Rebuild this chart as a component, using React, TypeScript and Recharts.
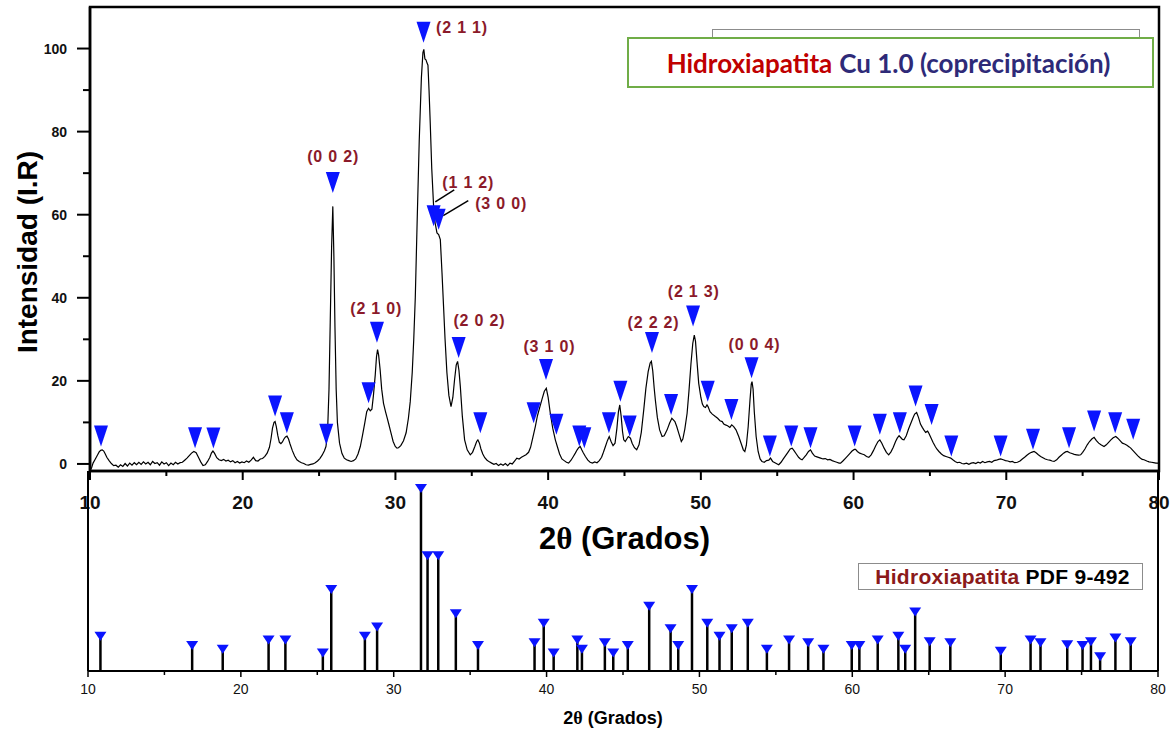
import React from "react";
import {
  ComposedChart,
  Line,
  Scatter,
  Bar,
  XAxis,
  YAxis,
  ReferenceArea,
  ReferenceLine,
  Legend,
} from "recharts";

// measured pattern: [2θ, intensity]
const patternPoints: [number, number][] = [
  [10.0, -1.5], [10.1, -1.0], [10.2, 0.2], [10.35, 1.2], [10.5, 2.2], [10.6, 2.9], [10.7, 3.3], [10.8, 3.4],
  [10.9, 3.1], [11.0, 2.4], [11.1, 1.6], [11.25, 0.8], [11.4, 0.1], [11.55, -0.4], [11.7, -0.3], [11.85, -0.8],
  [12.0, -0.2], [12.15, -0.6], [12.3, 0.1], [12.45, -0.5], [12.6, 0.2], [12.75, -0.3], [12.9, 0.3], [13.05, -0.2],
  [13.2, 0.4], [13.35, -0.1], [13.5, 0.5], [13.65, 0.0], [13.8, 0.4], [13.95, -0.2], [14.1, 0.6], [14.25, 0.1],
  [14.4, 0.3], [14.55, -0.3], [14.7, 0.5], [14.85, 0.0], [15.0, 0.3], [15.15, -0.4], [15.3, 0.2], [15.45, -0.2],
  [15.6, 0.4], [15.75, 0.0], [15.9, 0.3], [16.05, 0.4], [16.2, 0.9], [16.35, 1.4], [16.5, 2.0], [16.65, 2.6],
  [16.8, 3.0], [16.95, 2.7], [17.1, 1.6], [17.25, 0.5], [17.4, -0.4], [17.55, -0.2], [17.7, 0.6], [17.85, 1.6],
  [17.95, 2.6], [18.05, 3.1], [18.15, 2.6], [18.3, 1.5], [18.45, 1.0], [18.6, 0.8], [18.75, 1.1], [18.9, 0.7],
  [19.05, 0.9], [19.2, 0.5], [19.35, 0.8], [19.5, 0.3], [19.65, 0.6], [19.8, 0.2], [19.95, 0.5], [20.1, 0.3],
  [20.25, 0.7], [20.4, 0.4], [20.55, 0.9], [20.7, 1.6], [20.85, 0.8], [21.0, 0.7], [21.15, 1.2], [21.3, 1.3],
  [21.45, 1.8], [21.6, 2.6], [21.75, 4.0], [21.85, 6.0], [21.95, 8.6], [22.05, 10.0], [22.12, 10.2], [22.2, 9.0],
  [22.3, 6.8], [22.4, 5.2], [22.5, 4.9], [22.6, 5.3], [22.7, 6.0], [22.8, 6.5], [22.9, 6.7], [23.0, 6.0],
  [23.1, 4.8], [23.25, 3.2], [23.4, 1.9], [23.55, 1.0], [23.7, 0.6], [23.85, 0.3], [24.0, 0.1], [24.15, -0.2],
  [24.3, -0.3], [24.45, -0.1], [24.6, 0.0], [24.75, 0.3], [24.9, 0.7], [25.05, 1.3], [25.2, 2.1], [25.35, 3.2],
  [25.45, 4.2], [25.55, 7.0], [25.65, 18.0], [25.73, 34.0], [25.82, 52.0], [25.9, 62.0], [25.97, 50.0], [26.04, 33.0],
  [26.12, 18.0], [26.2, 10.0], [26.34, 5.0], [26.5, 2.5], [26.65, 1.4], [26.8, 1.0], [26.95, 0.8], [27.1, 0.6],
  [27.25, 0.8], [27.4, 1.2], [27.55, 2.4], [27.7, 4.2], [27.85, 7.0], [28.0, 10.0], [28.12, 12.6], [28.24, 13.4],
  [28.35, 12.8], [28.46, 13.2], [28.56, 16.5], [28.68, 21.5], [28.76, 25.8], [28.83, 27.5], [28.9, 26.2], [29.0, 22.6],
  [29.1, 18.0], [29.22, 14.6], [29.35, 12.6], [29.45, 11.2], [29.55, 9.8], [29.7, 7.6], [29.85, 5.4], [29.99, 4.2],
  [30.1, 3.8], [30.2, 3.9], [30.35, 4.4], [30.53, 5.6], [30.7, 7.5], [30.85, 11.0], [30.97, 15.0], [31.1, 22.0],
  [31.2, 30.0], [31.3, 40.0], [31.42, 58.0], [31.56, 78.0], [31.7, 93.0], [31.8, 99.0], [31.86, 99.8], [31.93, 97.5],
  [32.0, 97.3], [32.07, 96.5], [32.13, 96.0], [32.2, 90.0], [32.28, 82.0], [32.38, 71.0], [32.5, 62.0], [32.6, 58.0],
  [32.72, 55.6], [32.83, 55.2], [32.94, 54.0], [33.05, 46.0], [33.15, 38.0], [33.25, 30.0], [33.37, 22.0], [33.5, 16.5],
  [33.64, 13.8], [33.76, 16.0], [33.87, 20.2], [33.98, 23.8], [34.07, 24.7], [34.16, 22.5], [34.25, 18.6], [34.38, 11.5],
  [34.53, 5.8], [34.7, 3.4], [34.9, 2.2], [35.05, 2.8], [35.2, 4.2], [35.32, 5.4], [35.4, 5.8], [35.5, 5.0],
  [35.6, 3.6], [35.72, 2.4], [35.85, 1.5], [36.0, 0.9], [36.15, 0.5], [36.3, 0.2], [36.45, -0.1], [36.6, 0.1],
  [36.75, -0.4], [36.9, 0.0], [37.05, -0.3], [37.2, 0.1], [37.35, -0.4], [37.5, 0.2], [37.65, 0.0], [37.8, 0.7],
  [37.95, 1.4], [38.1, 1.2], [38.25, 1.6], [38.4, 1.9], [38.55, 2.2], [38.72, 2.8], [38.85, 4.0], [39.0, 6.4],
  [39.16, 9.0], [39.3, 11.6], [39.45, 13.6], [39.6, 15.6], [39.75, 17.5], [39.88, 18.2], [40.0, 16.0], [40.14, 12.2],
  [40.3, 8.6], [40.47, 5.8], [40.6, 4.2], [40.75, 2.4], [40.9, 1.2], [41.05, 0.8], [41.2, 0.4], [41.34, 0.2],
  [41.5, 0.9], [41.65, 1.8], [41.78, 2.6], [41.9, 3.4], [42.0, 3.9], [42.1, 4.2], [42.2, 3.4], [42.3, 2.7],
  [42.44, 1.8], [42.6, 0.9], [42.75, 0.4], [42.9, 0.2], [43.05, 0.5], [43.2, 0.3], [43.35, 0.8], [43.5, 1.6],
  [43.62, 2.8], [43.75, 4.2], [43.88, 5.6], [44.0, 6.6], [44.12, 5.4], [44.25, 4.4], [44.38, 5.0], [44.5, 8.5],
  [44.6, 12.5], [44.69, 14.2], [44.78, 11.5], [44.87, 7.8], [44.95, 5.8], [45.05, 5.4], [45.15, 6.0], [45.25, 6.6],
  [45.39, 6.2], [45.5, 5.0], [45.65, 3.9], [45.8, 3.4], [45.95, 4.6], [46.1, 7.6], [46.26, 13.0], [46.4, 18.2],
  [46.55, 22.2], [46.68, 24.3], [46.76, 24.7], [46.85, 22.4], [46.94, 18.4], [47.02, 15.4], [47.15, 11.2], [47.3, 8.2],
  [47.46, 6.6], [47.6, 6.8], [47.79, 8.2], [47.95, 9.8], [48.1, 11.0], [48.2, 10.6], [48.3, 10.2], [48.42, 9.0],
  [48.55, 7.4], [48.72, 5.4], [48.82, 6.0], [48.95, 8.4], [49.1, 12.2], [49.22, 17.5], [49.35, 24.0], [49.47, 29.0],
  [49.57, 31.0], [49.65, 29.5], [49.75, 24.5], [49.86, 19.4], [50.0, 16.0], [50.1, 14.4], [50.19, 13.8], [50.3, 13.6],
  [50.4, 14.2], [50.47, 13.8], [50.6, 12.6], [50.75, 12.0], [50.95, 11.4], [51.1, 11.0], [51.25, 10.4], [51.4, 10.2],
  [51.5, 9.6], [51.61, 9.4], [51.75, 9.2], [51.9, 8.8], [52.02, 9.4], [52.15, 9.0], [52.3, 8.2], [52.48, 6.6],
  [52.65, 4.8], [52.78, 3.4], [52.88, 3.0], [52.98, 4.5], [53.1, 9.0], [53.22, 15.5], [53.3, 19.2], [53.35, 19.8],
  [53.42, 18.0], [53.5, 12.5], [53.62, 6.6], [53.75, 3.0], [53.88, 1.2], [54.0, 0.6], [54.15, 0.4], [54.3, 0.8],
  [54.45, 0.9], [54.56, 1.4], [54.7, 0.6], [54.85, 0.3], [55.0, 0.0], [55.1, -0.2], [55.25, 0.4], [55.4, 1.2],
  [55.55, 2.0], [55.7, 2.8], [55.85, 3.6], [55.98, 3.8], [56.1, 3.2], [56.25, 2.4], [56.4, 1.6], [56.52, 1.2],
  [56.63, 1.0], [56.75, 1.5], [56.9, 2.2], [57.05, 3.0], [57.18, 3.4], [57.3, 2.6], [57.45, 1.9], [57.6, 1.7],
  [57.84, 1.4], [58.0, 1.2], [58.15, 1.3], [58.3, 1.0], [58.45, 1.1], [58.6, 0.8], [58.75, 0.6], [58.9, 0.4],
  [59.05, 0.2], [59.15, 0.2], [59.3, 0.7], [59.45, 1.3], [59.6, 1.9], [59.75, 2.5], [59.9, 3.1], [60.05, 3.5],
  [60.13, 3.5], [60.25, 3.0], [60.4, 2.6], [60.55, 2.4], [60.7, 2.2], [60.85, 1.8], [61.0, 1.6], [61.15, 2.2],
  [61.3, 3.2], [61.45, 4.4], [61.6, 5.4], [61.72, 5.8], [61.85, 5.0], [62.0, 3.8], [62.15, 2.8], [62.3, 2.2],
  [62.45, 2.9], [62.6, 4.0], [62.75, 5.4], [62.86, 6.2], [62.98, 6.8], [63.1, 6.3], [63.2, 5.9], [63.3, 5.8],
  [63.45, 6.8], [63.6, 8.4], [63.75, 9.8], [63.9, 11.2], [64.0, 12.0], [64.13, 12.4], [64.25, 11.2], [64.38, 9.6],
  [64.5, 8.8], [64.6, 8.2], [64.72, 7.6], [64.85, 7.9], [64.93, 7.4], [65.05, 6.4], [65.2, 5.2], [65.35, 4.2],
  [65.45, 3.6], [65.59, 3.0], [65.75, 2.4], [65.9, 2.0], [66.05, 1.8], [66.2, 1.6], [66.36, 1.4], [66.5, 1.0],
  [66.65, 0.6], [66.8, 0.3], [66.95, 0.4], [67.1, 0.1], [67.23, 0.0], [67.4, 0.2], [67.55, -0.1], [67.7, 0.2],
  [67.85, 0.3], [68.0, 0.1], [68.15, 0.4], [68.3, 0.2], [68.45, 0.6], [68.6, 0.3], [68.75, 0.5], [68.9, 0.6],
  [69.05, 0.4], [69.2, 0.8], [69.35, 0.9], [69.5, 1.1], [69.63, 1.2], [69.8, 1.0], [69.95, 0.8], [70.1, 0.7],
  [70.25, 0.5], [70.4, 0.6], [70.55, 0.3], [70.73, 0.4], [70.9, 0.7], [71.05, 1.2], [71.2, 1.6], [71.35, 2.1],
  [71.5, 2.5], [71.65, 2.8], [71.82, 3.0], [71.95, 2.7], [72.1, 2.2], [72.25, 1.8], [72.4, 1.5], [72.55, 1.2],
  [72.7, 1.0], [72.85, 0.9], [73.0, 0.7], [73.13, 0.6], [73.3, 1.0], [73.45, 1.6], [73.6, 2.1], [73.75, 2.6],
  [73.88, 2.9], [74.0, 3.0], [74.15, 2.7], [74.3, 2.5], [74.45, 2.3], [74.6, 2.2], [74.75, 2.1], [74.87, 2.2],
  [75.0, 2.8], [75.15, 3.6], [75.3, 4.6], [75.45, 5.4], [75.6, 6.0], [75.75, 6.4], [75.9, 5.6], [76.05, 5.0],
  [76.2, 4.6], [76.4, 4.2], [76.55, 4.6], [76.7, 5.2], [76.85, 5.8], [77.0, 6.3], [77.17, 6.6], [77.3, 6.2],
  [77.45, 5.6], [77.6, 5.0], [77.75, 4.8], [77.9, 4.5], [78.05, 4.1], [78.15, 3.8], [78.3, 3.2], [78.45, 2.6],
  [78.6, 2.0], [78.75, 1.5], [78.9, 1.1], [79.02, 1.0], [79.2, 0.7], [79.35, 0.5], [79.5, 0.4], [79.65, 0.3],
  [79.8, 0.2], [79.9, 0.2], [80.0, 0.1],
];

// blue triangles over the identified reflections: [2θ, intensity at the tip]
const peakMarks: [number, number][] = [
  [10.72, 4.2], [16.88, 3.8], [18.08, 3.7], [22.12, 11.4], [22.89, 7.4], [25.47, 4.6], [25.9, 65.2],
  [28.24, 14.6], [28.79, 29.2], [31.84, 101.4], [32.5, 57.2], [32.83, 56.4], [34.14, 25.5], [35.56, 7.4],
  [39.05, 9.8], [39.86, 20.2], [40.54, 7.0], [42.04, 4.2], [42.37, 3.8], [43.98, 7.4], [44.73, 15.0],
  [45.34, 6.6], [46.8, 26.7], [48.05, 11.8], [49.49, 33.1], [50.45, 15.0], [52.0, 10.6], [53.32, 20.6],
  [54.52, 1.8], [55.92, 4.2], [57.18, 3.8], [60.07, 4.2], [61.72, 7.0], [63.03, 7.4], [64.06, 13.8],
  [65.11, 9.4], [66.4, 1.8], [69.63, 1.8], [71.75, 3.4], [74.11, 3.8], [75.75, 7.8], [77.13, 7.4], [78.31, 5.8],
];

// Miller indices and where their text sits
const hklLabels = [
  { t: 25.92, v: 74.0, label: "(0 0 2)" },
  { t: 28.74, v: 37.3, label: "(2 1 0)" },
  { t: 34.36, v: 105.1, label: "(2 1 1)" },
  { t: 34.77, v: 67.7, label: "(1 1 2)" },
  { t: 36.92, v: 62.7, label: "(3 0 0)" },
  { t: 35.5, v: 34.5, label: "(2 0 2)" },
  { t: 40.08, v: 28.3, label: "(3 1 0)" },
  { t: 46.9, v: 34.0, label: "(2 2 2)" },
  { t: 49.53, v: 41.5, label: "(2 1 3)" },
  { t: 53.51, v: 28.8, label: "(0 0 4)" },
];

const leaderLines = [
  [{ x: 33.85, y: 66.0 }, { x: 32.61, y: 63.1 }],
  [{ x: 34.77, y: 63.4 }, { x: 33.13, y: 59.8 }],
];

// reference card PDF 9-432: [2θ, relative intensity]
const pdfSticks: [number, number][] = [
  [10.8, 21], [16.8, 16], [18.8, 14], [21.8, 19], [22.9, 19], [25.35, 12], [25.9, 46], [28.1, 21],
  [28.9, 26], [31.77, 100], [32.2, 64], [32.9, 64], [34.05, 33], [35.5, 16], [39.2, 17.5], [39.8, 28],
  [40.45, 12], [42.0, 19], [42.3, 14], [43.8, 17.5], [44.35, 12], [45.3, 16], [46.7, 37], [48.1, 25],
  [48.6, 16], [49.5, 46], [50.5, 28], [51.3, 21], [52.1, 25], [53.15, 28], [54.4, 14], [55.85, 19],
  [57.1, 17.5], [58.1, 14], [59.95, 16], [60.45, 16], [61.65, 19], [63.0, 21], [63.45, 14], [64.1, 34],
  [65.05, 18], [66.4, 17.5], [69.7, 13], [71.65, 19], [72.3, 17.5], [74.05, 16.5], [75.05, 16], [75.6, 18],
  [76.2, 10], [77.2, 20], [78.2, 18],
];

const xTicks = [10, 15, 20, 25, 30, 35, 40, 45, 50, 55, 60, 65, 70, 75, 80];
const yTicks = [0, 10, 20, 30, 40, 50, 60, 70, 80, 90, 100];

const SANS = "'Liberation Sans', Arial, sans-serif";
const BLUE = "#0a14ff";
const HKL_RED = "#8b1a2a";

const patternData = patternPoints.map(([t, v]) => ({ t, v }));
const markData = peakMarks.map(([t, v]) => ({ t, v }));
const stickData = pdfSticks.map(([t, v]) => ({ t, v }));

function TopXTick({ x, y, payload }: any) {
  const major = payload.value % 10 === 0;
  return (
    <g>
      <line x1={x} x2={x} y1={y} y2={y + (major ? 9 : 5)} stroke="#000" strokeWidth={2} />
      {major && (
        <text x={x} y={y + 38} textAnchor="middle" fontSize={19} fontWeight="bold" fontFamily={SANS} fill="#111">
          {payload.value}
        </text>
      )}
    </g>
  );
}

function TopYTick({ x, y, payload }: any) {
  const major = payload.value % 20 === 0;
  return (
    <g>
      <line x1={x} x2={x - (major ? 13 : 7)} y1={y} y2={y} stroke="#000" strokeWidth={2} />
      {major && (
        <text x={x - 23} y={y + 5} textAnchor="end" fontSize={14} fontWeight="bold" fontFamily={SANS} fill="#111">
          {payload.value}
        </text>
      )}
    </g>
  );
}

function BottomXTick({ x, y, payload }: any) {
  const major = payload.value % 10 === 0;
  return (
    <g>
      <line x1={x} x2={x} y1={y} y2={y + (major ? 6 : 4)} stroke="#000" strokeWidth={1.5} />
      {major && (
        <text x={x} y={y + 23} textAnchor="middle" fontSize={14} fontFamily={SANS} fill="#111">
          {payload.value}
        </text>
      )}
    </g>
  );
}

function Triangle({ cx, cy }: any) {
  return <polygon points={`${cx - 7},${cy - 21} ${cx + 7},${cy - 21} ${cx},${cy}`} fill={BLUE} />;
}

function HklText({ cx, cy, payload }: any) {
  return (
    <text
      x={cx}
      y={cy}
      textAnchor="middle"
      dominantBaseline="central"
      fontSize={16}
      fontWeight="bold"
      letterSpacing={0.8}
      fontFamily={SANS}
      fill={HKL_RED}
    >
      {payload.label}
    </text>
  );
}

function Stick({ x, y, width, height }: any) {
  const cx = x + width / 2;
  return (
    <g>
      <line x1={cx} x2={cx} y1={y + height} y2={y + 4} stroke="#000" strokeWidth={2.5} />
      <polygon points={`${cx - 6},${y} ${cx + 6},${y} ${cx},${y + 9}`} fill={BLUE} />
    </g>
  );
}

function TitleX({ viewBox, size, dx, dy }: any) {
  return (
    <text
      x={viewBox.x + viewBox.width / 2 + dx}
      y={viewBox.y + dy}
      textAnchor="middle"
      dominantBaseline="central"
      fontSize={size}
      fontWeight="bold"
      fontFamily={SANS}
      fill="#000"
    >
      2<tspan fontFamily="'Liberation Serif', serif">θ</tspan> (Grados)
    </text>
  );
}

function TitleY({ viewBox }: any) {
  const cx = viewBox.x + 27;
  const cy = viewBox.y + 245;
  return (
    <text
      x={cx}
      y={cy}
      transform={`rotate(-90 ${cx} ${cy})`}
      textAnchor="middle"
      dominantBaseline="central"
      fontSize={28}
      fontWeight="bold"
      fontFamily={SANS}
      fill="#000"
    >
      Intensidad (I.R)
    </text>
  );
}

function SampleLegend() {
  return (
    <div style={{ position: "relative", width: 527, height: 59 }}>
      <div
        style={{
          position: "absolute",
          left: 85,
          top: 0,
          width: 428,
          height: 20,
          border: "1.5px solid #8c8c8c",
          boxSizing: "border-box",
        }}
      />
      <div
        style={{
          position: "absolute",
          left: 0,
          top: 8,
          width: 527,
          height: 51,
          border: "2.5px solid #70ad47",
          boxSizing: "border-box",
          background: "#fff",
          display: "flex",
          alignItems: "center",
          justifyContent: "center",
          fontFamily: "Lato, 'Open Sans', sans-serif",
          fontWeight: "bold",
          fontSize: 26,
          paddingRight: 4,
        }}
      >
        <span style={{ color: "#c00000" }}>Hidroxiapatita</span>
        <span style={{ color: "#2e2a78", marginLeft: 7 }}>Cu 1.0 (coprecipitación)</span>
      </div>
    </div>
  );
}

function CardLegend() {
  return (
    <div
      style={{
        width: 285,
        height: 27,
        border: "1.5px solid #8c8c8c",
        boxSizing: "border-box",
        background: "#fff",
        fontFamily: SANS,
        fontWeight: "bold",
        fontSize: 21,
        letterSpacing: 0.3,
        display: "flex",
        alignItems: "center",
        justifyContent: "center",
        paddingLeft: 4,
      }}
    >
      <span style={{ color: "#8b1a1a" }}>Hidroxiapatita</span>
      <span style={{ color: "#000", marginLeft: 6 }}>PDF 9-492</span>
    </div>
  );
}

export default function App() {
  return (
    <div style={{ position: "absolute", left: 0, top: 0, width: 1173, height: 732, background: "#fff" }}>
      <div style={{ position: "absolute", left: 0, top: 0 }}>
        <ComposedChart width={1173} height={560} data={patternData} margin={{ top: 7, right: 14, bottom: 0, left: 0 }}>
          <XAxis
            dataKey="t"
            type="number"
            domain={[10, 80]}
            ticks={xTicks}
            tick={<TopXTick />}
            tickLine={false}
            tickSize={0}
            tickMargin={0}
            height={89}
            axisLine={{ stroke: "#000", strokeWidth: 2.5 }}
            allowDataOverflow
            label={{ content: (p: any) => <TitleX {...p} size={31} dx={0} dy={67} /> }}
          />
          <YAxis
            type="number"
            domain={[-1.7, 110]}
            ticks={yTicks}
            tick={<TopYTick />}
            tickLine={false}
            tickSize={0}
            tickMargin={0}
            width={90}
            axisLine={{ stroke: "#000", strokeWidth: 2.5 }}
            allowDataOverflow
            label={{ content: (p: any) => <TitleY {...p} /> }}
          />
          <ReferenceArea x1={10} x2={80} y1={-1.7} y2={110} fill="none" stroke="#000" strokeWidth={2.5} />
          <Line
            dataKey="v"
            type="linear"
            stroke="#000"
            strokeWidth={1.2}
            dot={false}
            isAnimationActive={false}
          />
          <Scatter data={markData} dataKey="v" shape={<Triangle />} isAnimationActive={false} />
          <Scatter data={hklLabels} dataKey="v" shape={<HklText />} isAnimationActive={false} />
          {leaderLines.map((seg, i) => (
            <ReferenceLine key={i} segment={seg} stroke="#000" strokeWidth={1.5} />
          ))}
          <Legend
            layout="horizontal"
            verticalAlign="middle"
            align="center"
            content={() => <SampleLegend />}
            wrapperStyle={{ left: 627, top: 29, width: 527, height: 59 }}
          />
        </ComposedChart>
      </div>
      <div style={{ position: "absolute", left: 0, top: 471 }}>
        <ComposedChart width={1173} height={261} data={stickData} margin={{ top: 0, right: 15, bottom: 0, left: 0 }}>
          <XAxis
            dataKey="t"
            type="number"
            domain={[10, 80]}
            ticks={xTicks}
            tick={<BottomXTick />}
            tickLine={false}
            tickSize={0}
            tickMargin={0}
            height={61}
            axisLine={{ stroke: "#000", strokeWidth: 2 }}
            allowDataOverflow
            label={{ content: (p: any) => <TitleX {...p} size={18} dx={-10} dy={47} /> }}
          />
          <YAxis
            type="number"
            domain={[0, 107]}
            tick={false}
            tickLine={false}
            width={88}
            axisLine={{ stroke: "#000", strokeWidth: 2 }}
          />
          <ReferenceLine x={80} stroke="#000" strokeWidth={2} />
          <Bar dataKey="v" barSize={3} shape={<Stick />} isAnimationActive={false} />
          <Legend
            layout="horizontal"
            verticalAlign="middle"
            align="center"
            content={() => <CardLegend />}
            wrapperStyle={{ left: 858, top: 92, width: 285, height: 27 }}
          />
        </ComposedChart>
      </div>
    </div>
  );
}
